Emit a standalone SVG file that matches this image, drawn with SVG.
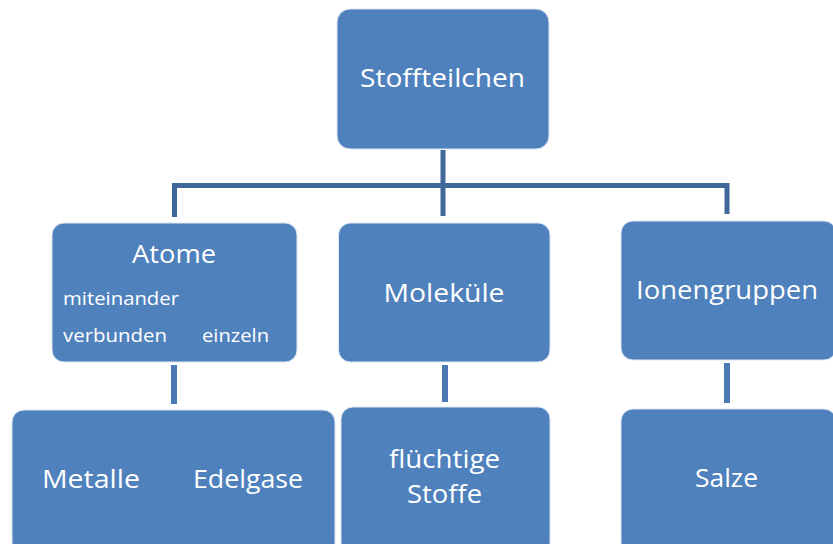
<svg xmlns="http://www.w3.org/2000/svg" width="833" height="544" viewBox="0 0 833 544">
<style>
.box{fill:#4F81BD;stroke:#DDE6F1;stroke-width:1}
.t{fill:#FFFFFF;font-family:"Open Sans","Noto Sans",sans-serif;text-anchor:middle}
.big{font-size:26px}
.small{font-size:18px}
.up{stroke:#40689A;stroke-width:5;fill:none}
.low{stroke:#4A79B3;stroke-width:6;fill:none}
</style>
<rect width="833" height="544" fill="#FFFFFF"/>
<g id="connectors">
<path class="up" d="M443,150 V216 M174.5,217 V185.5 H727 V214"/>
<path class="low" d="M174,365 V404 M445,365 V402 M727,363 V403"/>
</g>
<g id="stoffteilchen">
<rect class="box" x="337" y="9" width="212" height="140" rx="13"/>
<text class="t big" x="442.5" y="87" textLength="165" lengthAdjust="spacingAndGlyphs">Stoffteilchen</text>
</g>
<g id="atome">
<rect class="box" x="52" y="223" width="245" height="139" rx="12"/>
<text class="t big" x="174" y="263" textLength="84" lengthAdjust="spacingAndGlyphs">Atome</text>
<text class="t small" x="121" y="305" textLength="116" lengthAdjust="spacingAndGlyphs">miteinander</text>
<text class="t small" x="115" y="342" textLength="104" lengthAdjust="spacingAndGlyphs">verbunden</text>
<text class="t small" x="235.5" y="342" textLength="67" lengthAdjust="spacingAndGlyphs">einzeln</text>
</g>
<g id="molekuele">
<rect class="box" x="338.5" y="223" width="211.5" height="139" rx="12"/>
<text class="t big" x="444" y="302" textLength="121" lengthAdjust="spacingAndGlyphs">Moleküle</text>
</g>
<g id="ionengruppen">
<rect class="box" x="621" y="221" width="215" height="139" rx="12"/>
<text class="t big" x="727" y="299" textLength="182" lengthAdjust="spacingAndGlyphs">Ionengruppen</text>
</g>
<g id="metalle-edelgase">
<rect class="box" x="12" y="410" width="323" height="145" rx="12"/>
<text class="t big" x="91" y="488" textLength="98" lengthAdjust="spacingAndGlyphs">Metalle</text>
<text class="t big" x="248" y="488" textLength="110" lengthAdjust="spacingAndGlyphs">Edelgase</text>
</g>
<g id="fluechtige-stoffe">
<rect class="box" x="341" y="407" width="209" height="148" rx="12"/>
<text class="t big" x="444.5" y="468" textLength="111" lengthAdjust="spacingAndGlyphs">flüchtige</text>
<text class="t big" x="444.5" y="503" textLength="75" lengthAdjust="spacingAndGlyphs">Stoffe</text>
</g>
<g id="salze">
<rect class="box" x="621" y="409" width="215" height="146" rx="12"/>
<text class="t big" x="726.5" y="487" textLength="63" lengthAdjust="spacingAndGlyphs">Salze</text>
</g>
</svg>
